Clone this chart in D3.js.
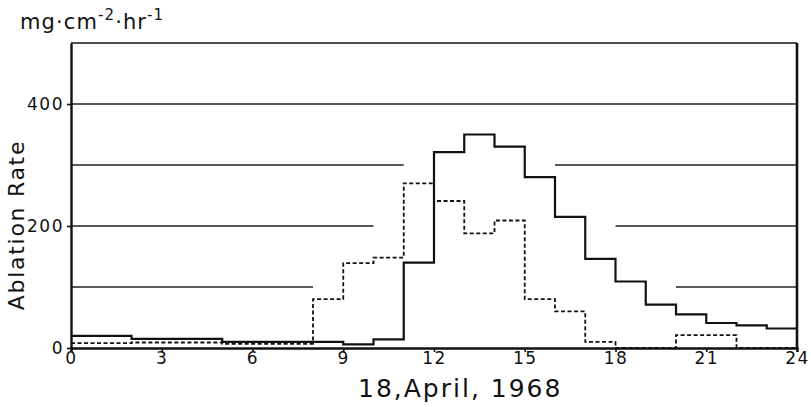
<!DOCTYPE html>
<html>
<head>
<meta charset="utf-8">
<script src="https://cdn.jsdelivr.net/npm/d3@7"></script>
<style>
    body { margin: 0; background: #fff; }
    text { font-family: "DejaVu Sans", sans-serif; fill: #111; }
</style>
</head>
<body>
<div id="chart"></div>
<script>
// hour at start of each step, 0..23
var hours = d3.range(0, 24);
// solid line (hourly ablation rate)
var solidValues = [20, 20, 15, 15, 15, 10, 10, 10, 10, 6, 14, 140, 321, 350, 330, 280, 215, 146, 109, 71, 55, 41, 37, 32];
// dashed line
var dashedValues = [8, 8, 9, 9, 9, 7, 7, 7, 80, 139, 148, 270, 241, 188, 209, 80, 60, 10, 0, 0, 21, 21, 0, 0];
var xTicks = [0, 3, 6, 9, 12, 15, 18, 21, 24];
var yTicks = [0, 200, 400];
// horizontal guide lines, broken where the curves pass
var gridLevels = [100, 200, 300, 400];
var gridSpans = [[[0, 8], [20, 24]], [[0, 10], [18, 24]], [[0, 11], [16, 24]], [[0, 24]]];

function AblationChart() {
    var self = this;
    self.init();
}

AblationChart.prototype.init = function () {
    var self = this;
    self.svgWidth = 811;
    self.svgHeight = 407;
    self.margin = {top: 43, right: 14, bottom: 59, left: 71};

    self.svg = d3.select("#chart").append("svg")
        .attr("width", self.svgWidth)
        .attr("height", self.svgHeight);

    self.xScale = d3.scaleLinear()
        .domain([0, 24])
        .range([self.margin.left, self.svgWidth - self.margin.right]);

    self.yScale = d3.scaleLinear()
        .domain([0, 500])
        .range([self.svgHeight - self.margin.bottom, self.margin.top]);
};

AblationChart.prototype.update = function () {
    var self = this;
    var x = self.xScale, y = self.yScale;

    // guide lines
    var grid = self.svg.append("g").attr("id", "grid");
    gridLevels.forEach(function (level, i) {
        grid.selectAll(null)
            .data(gridSpans[i])
            .enter()
            .append("line")
            .attr("x1", function (d) { return x(d[0]); })
            .attr("x2", function (d) { return x(d[1]); })
            .attr("y1", y(level))
            .attr("y2", y(level))
            .attr("stroke", "#222")
            .attr("stroke-width", 1.4);
    });

    // frame top and right
    self.svg.append("line")
        .attr("x1", x(0)).attr("x2", x(24))
        .attr("y1", y(500)).attr("y2", y(500))
        .attr("stroke", "#111").attr("stroke-width", 1.6);
    self.svg.append("line")
        .attr("x1", x(24)).attr("x2", x(24))
        .attr("y1", y(500)).attr("y2", y(0))
        .attr("stroke", "#111").attr("stroke-width", 2.6);

    var stepLine = d3.line()
        .x(function (d) { return x(d[0]); })
        .y(function (d) { return y(d[1]); })
        .curve(d3.curveStepAfter);

    function steps(values) {
        var pts = hours.map(function (h, i) { return [h, values[i]]; });
        pts.push([24, values[values.length - 1]]);
        return pts;
    }

    self.svg.append("path")
        .datum(steps(dashedValues))
        .attr("d", stepLine)
        .attr("fill", "none")
        .attr("stroke", "#111")
        .attr("stroke-width", 1.8)
        .attr("stroke-dasharray", "4,2.5");

    self.svg.append("path")
        .datum(steps(solidValues))
        .attr("d", stepLine)
        .attr("fill", "none")
        .attr("stroke", "#111")
        .attr("stroke-width", 2.2);

    // axes
    var xAxis = d3.axisBottom(x).tickValues(xTicks).tickSize(4).tickPadding(0);
    var xg = self.svg.append("g")
        .attr("transform", "translate(0," + y(0) + ")")
        .call(xAxis);
    xg.select(".domain").attr("stroke-width", 2.4).attr("stroke", "#111");
    xg.selectAll(".tick line").attr("stroke-width", 1.6).attr("stroke", "#111");
    xg.selectAll(".tick text")
        .attr("font-size", 17)
        .attr("font-family", "DejaVu Sans")
        .attr("letter-spacing", 1.5);

    var yAxis = d3.axisLeft(y).tickValues(yTicks).tickSize(4).tickPadding(3).tickSizeOuter(0);
    var yg = self.svg.append("g")
        .attr("transform", "translate(" + x(0) + ",0)")
        .call(yAxis);
    yg.select(".domain").attr("stroke-width", 2.4).attr("stroke", "#111");
    yg.selectAll(".tick line").attr("stroke-width", 1.6).attr("stroke", "#111");
    yg.selectAll(".tick text")
        .attr("font-size", 17)
        .attr("font-family", "DejaVu Sans")
        .attr("letter-spacing", 1.5);

    // titles
    self.svg.append("text")
        .attr("x", 358)
        .attr("y", 397)
        .attr("font-size", 25)
        .attr("letter-spacing", 2)
        .text("18,April, 1968");

    self.svg.append("text")
        .attr("transform", "translate(24,225) rotate(-90)")
        .attr("text-anchor", "middle")
        .attr("font-size", 22)
        .attr("letter-spacing", 1.7)
        .text("Ablation Rate");

    var unit = self.svg.append("text")
        .attr("x", 20)
        .attr("y", 29)
        .attr("font-size", 21)
        .attr("letter-spacing", 1.1);
    unit.append("tspan").text("mg·cm");
    unit.append("tspan").attr("dy", -9).attr("font-size", 15).text("-2");
    unit.append("tspan").attr("dy", 9).text("·hr");
    unit.append("tspan").attr("dy", -9).attr("font-size", 15).text("-1");
};

var chart = new AblationChart();
chart.update();
</script>
</body>
</html>
